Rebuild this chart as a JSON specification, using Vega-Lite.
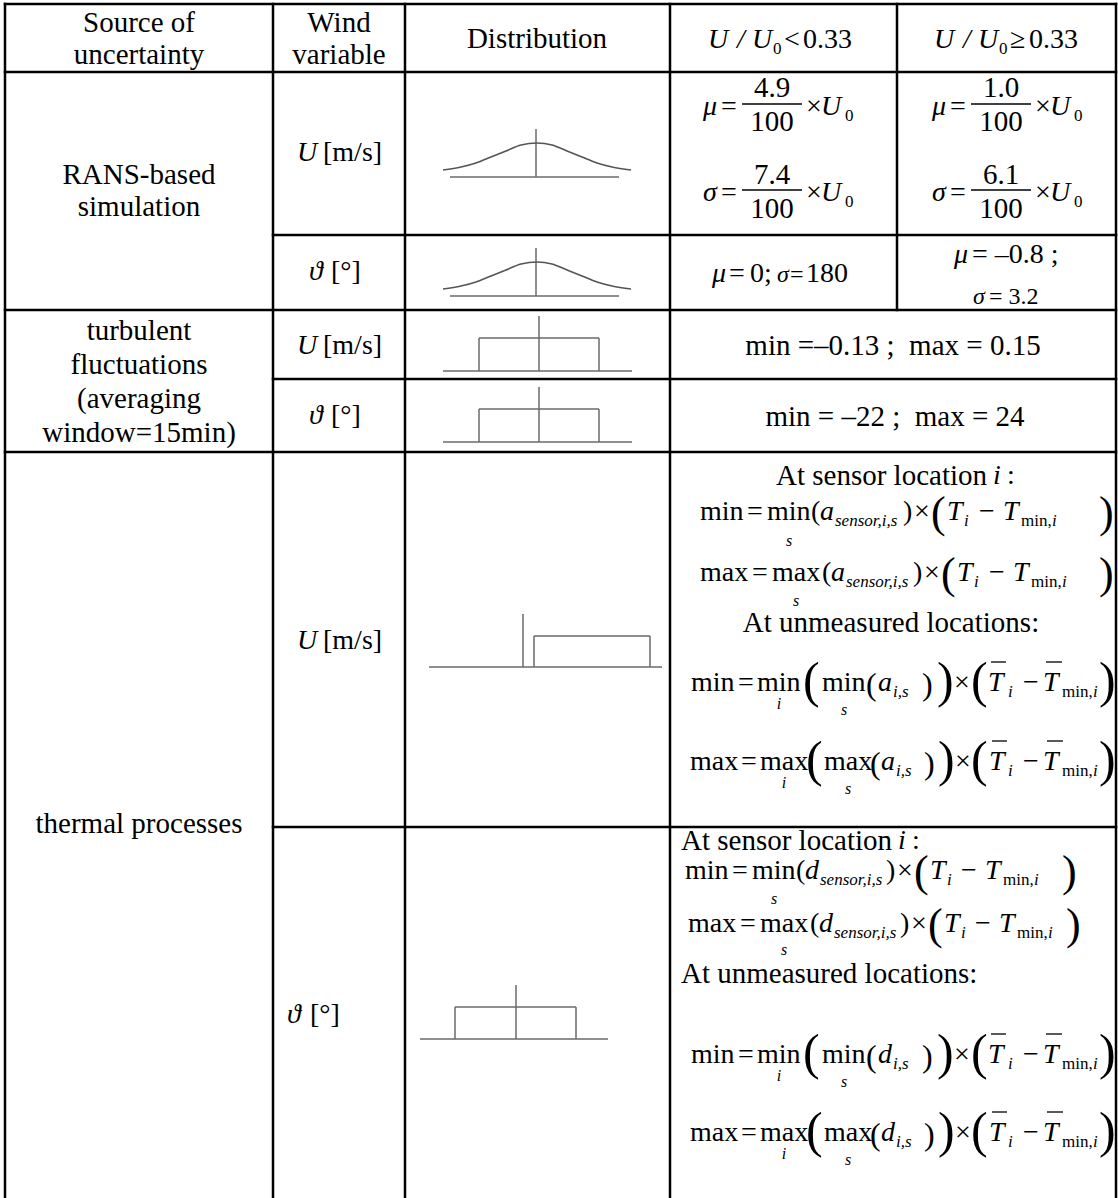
{
"$schema": "https://vega.github.io/schema/vega-lite/v6.json",
"width": 1118, "height": 1198, "autosize": {"type": "none"}, "padding": 0,
"background": "white",
"config": {"view": {"stroke": null}, "text": {"font": "Liberation Serif"}},
"datasets": {
"grid": [
{"x":5,"y":4,"x2":1116,"y2":4},{"x":5,"y":72,"x2":1116,"y2":72},{"x":273,"y":235,"x2":1116,"y2":235},
{"x":5,"y":310,"x2":1116,"y2":310},{"x":273,"y":379,"x2":1116,"y2":379},{"x":5,"y":452,"x2":1116,"y2":452},
{"x":273,"y":827,"x2":1116,"y2":827},
{"x":5,"y":4,"x2":5,"y2":1198},{"x":273,"y":4,"x2":273,"y2":1198},{"x":405,"y":4,"x2":405,"y2":1198},
{"x":670,"y":4,"x2":670,"y2":1198},{"x":897,"y":4,"x2":897,"y2":310},{"x":1116,"y":4,"x2":1116,"y2":1198}
],
"shapes": [
{"x":450,"y":177,"x2":619,"y2":177},{"x":536,"y":129,"x2":536,"y2":177},
{"x":450,"y":296,"x2":619,"y2":296},{"x":536,"y":248,"x2":536,"y2":296},
{"x":443,"y":371,"x2":632,"y2":371},{"x":479,"y":338,"x2":479,"y2":371},{"x":479,"y":338,"x2":599,"y2":338},{"x":599,"y":338,"x2":599,"y2":371},{"x":539,"y":316,"x2":539,"y2":371},
{"x":443,"y":442,"x2":632,"y2":442},{"x":479,"y":409,"x2":479,"y2":442},{"x":479,"y":409,"x2":599,"y2":409},{"x":599,"y":409,"x2":599,"y2":442},{"x":539,"y":387,"x2":539,"y2":442},
{"x":429,"y":667,"x2":662,"y2":667},{"x":523,"y":614,"x2":523,"y2":667},{"x":534,"y":636,"x2":534,"y2":667},{"x":534,"y":636,"x2":650,"y2":636},{"x":650,"y":636,"x2":650,"y2":667},
{"x":420,"y":1039,"x2":608,"y2":1039},{"x":455,"y":1007,"x2":455,"y2":1039},{"x":455,"y":1007,"x2":576,"y2":1007},{"x":576,"y":1007,"x2":576,"y2":1039},{"x":516,"y":985,"x2":516,"y2":1039}
],
"bars": [
{"x":742,"y":104,"x2":802,"y2":104},{"x":742,"y":190,"x2":802,"y2":190},
{"x":971,"y":104,"x2":1031,"y2":104},{"x":971,"y":190,"x2":1031,"y2":190},
{"x":991,"y":662,"x2":1006,"y2":662},{"x":1046,"y":662,"x2":1062,"y2":662},
{"x":992,"y":741,"x2":1007,"y2":741},{"x":1047,"y":741,"x2":1063,"y2":741},
{"x":991,"y":1034,"x2":1006,"y2":1034},{"x":1046,"y":1034,"x2":1062,"y2":1034},
{"x":992,"y":1112,"x2":1007,"y2":1112},{"x":1047,"y":1112,"x2":1063,"y2":1112}
],
"curves": [
{"id":"u","x":443,"y":170},{"id":"u","x":461,"y":167},{"id":"u","x":476,"y":163},{"id":"u","x":491,"y":157},{"id":"u","x":506,"y":151},{"id":"u","x":521,"y":145},{"id":"u","x":537,"y":143},{"id":"u","x":552,"y":145},{"id":"u","x":567,"y":151},{"id":"u","x":582,"y":157},{"id":"u","x":597,"y":163},{"id":"u","x":612,"y":167},{"id":"u","x":631,"y":170},
{"id":"t","x":443,"y":289},{"id":"t","x":461,"y":286},{"id":"t","x":476,"y":282},{"id":"t","x":491,"y":276},{"id":"t","x":506,"y":270},{"id":"t","x":521,"y":264},{"id":"t","x":537,"y":262},{"id":"t","x":552,"y":264},{"id":"t","x":567,"y":270},{"id":"t","x":582,"y":276},{"id":"t","x":597,"y":282},{"id":"t","x":612,"y":286},{"id":"t","x":631,"y":289}
],
"texts": [
{"x":139,"y":23,"t":"Source of","r":"c"},{"x":139,"y":55,"t":"uncertainty","r":"c"},
{"x":339,"y":23,"t":"Wind","r":"c"},{"x":339,"y":55,"t":"variable","r":"c"},
{"x":537,"y":39,"t":"Distribution","r":"c"},
{"x":708,"y":40,"t":"U","r":"v"},{"x":737,"y":40,"t":"/","r":"v"},{"x":752,"y":40,"t":"U","r":"v"},{"x":773,"y":49,"t":"0","r":"sr"},{"x":784,"y":40,"t":"<","r":"r"},{"x":803,"y":40,"t":"0.33","r":"r"},
{"x":934,"y":40,"t":"U","r":"v"},{"x":963,"y":40,"t":"/","r":"v"},{"x":978,"y":40,"t":"U","r":"v"},{"x":999,"y":49,"t":"0","r":"sr"},{"x":1010,"y":40,"t":"≥","r":"r"},{"x":1029,"y":40,"t":"0.33","r":"r"},

{"x":139,"y":175,"t":"RANS-based","r":"c"},{"x":139,"y":207,"t":"simulation","r":"c"},
{"x":297,"y":153,"t":"U","r":"v"},{"x":323,"y":153,"t":"[m/s]","r":"r"},
{"x":703,"y":107,"t":"μ","r":"v"},{"x":721,"y":107,"t":"=","r":"r"},{"x":772,"y":88,"t":"4.9","r":"c"},{"x":772,"y":122,"t":"100","r":"c"},{"x":806,"y":107,"t":"×","r":"r"},{"x":821,"y":107,"t":"U","r":"v"},{"x":845,"y":116,"t":"0","r":"sr"},
{"x":703,"y":193,"t":"σ","r":"v"},{"x":721,"y":193,"t":"=","r":"r"},{"x":772,"y":175,"t":"7.4","r":"c"},{"x":772,"y":209,"t":"100","r":"c"},{"x":806,"y":193,"t":"×","r":"r"},{"x":821,"y":193,"t":"U","r":"v"},{"x":845,"y":202,"t":"0","r":"sr"},
{"x":932,"y":107,"t":"μ","r":"v"},{"x":950,"y":107,"t":"=","r":"r"},{"x":1001,"y":88,"t":"1.0","r":"c"},{"x":1001,"y":122,"t":"100","r":"c"},{"x":1035,"y":107,"t":"×","r":"r"},{"x":1050,"y":107,"t":"U","r":"v"},{"x":1074,"y":116,"t":"0","r":"sr"},
{"x":932,"y":193,"t":"σ","r":"v"},{"x":950,"y":193,"t":"=","r":"r"},{"x":1001,"y":175,"t":"6.1","r":"c"},{"x":1001,"y":209,"t":"100","r":"c"},{"x":1035,"y":193,"t":"×","r":"r"},{"x":1050,"y":193,"t":"U","r":"v"},{"x":1074,"y":202,"t":"0","r":"sr"},

{"x":309,"y":272,"t":"ϑ","r":"v"},{"x":331,"y":272,"t":"[°]","r":"r"},
{"x":712,"y":274,"t":"μ","r":"v"},{"x":729,"y":274,"t":"=","r":"r"},{"x":750,"y":274,"t":"0","r":"r"},{"x":764,"y":274,"t":";","r":"r"},{"x":777,"y":275,"t":"σ","r":"mv"},{"x":790,"y":275,"t":"=","r":"m"},{"x":806,"y":274,"t":"180","r":"r"},
{"x":954,"y":255,"t":"μ","r":"v"},{"x":972,"y":255,"t":"= –0.8 ;","r":"r"},
{"x":973,"y":297,"t":"σ","r":"mv"},{"x":989,"y":297,"t":"= 3.2","r":"m"},

{"x":139,"y":331,"t":"turbulent","r":"c"},{"x":139,"y":365,"t":"fluctuations","r":"c"},{"x":139,"y":399,"t":"(averaging","r":"c"},{"x":139,"y":433,"t":"window=15min)","r":"c"},
{"x":297,"y":346,"t":"U","r":"v"},{"x":323,"y":346,"t":"[m/s]","r":"r"},
{"x":309,"y":416,"t":"ϑ","r":"v"},{"x":331,"y":416,"t":"[°]","r":"r"},
{"x":893,"y":346,"t":"min =–0.13 ;\u00a0 max = 0.15","r":"c"},
{"x":895,"y":417,"t":"min = –22 ;\u00a0 max = 24","r":"c"},

{"x":139,"y":824,"t":"thermal processes","r":"c"},
{"x":297,"y":641,"t":"U","r":"v"},{"x":323,"y":641,"t":"[m/s]","r":"r"},
{"x":287,"y":1015,"t":"ϑ","r":"v"},{"x":310,"y":1015,"t":"[°]","r":"r"},

{"x":776,"y":476,"t":"At sensor location","r":"w"},{"x":993,"y":476,"t":"i","r":"v"},{"x":1007,"y":476,"t":":","r":"r"},
{"x":700,"y":512,"t":"min","r":"r"},{"x":747,"y":512,"t":"=","r":"r"},{"x":767,"y":512,"t":"min","r":"r"},{"x":789,"y":541,"t":"s","r":"lim"},{"x":811,"y":512,"t":"(","r":"r"},{"x":820,"y":512,"t":"a","r":"v"},{"x":835,"y":521,"t":"sensor,i,s","r":"s"},{"x":903,"y":512,"t":")","r":"r"},{"x":914,"y":512,"t":"×","r":"r"},{"x":931,"y":514,"t":"(","r":"p1"},{"x":947,"y":512,"t":"T","r":"v"},{"x":964,"y":521,"t":"i","r":"s"},{"x":979,"y":512,"t":"−","r":"r"},{"x":1003,"y":512,"t":"T","r":"v"},{"x":1021,"y":521,"t":"min,","r":"sr"},{"x":1052,"y":521,"t":"i","r":"s"},{"x":1099,"y":514,"t":")","r":"p1"},
{"x":700,"y":573,"t":"max","r":"r"},{"x":752,"y":573,"t":"=","r":"r"},{"x":772,"y":573,"t":"max","r":"r"},{"x":796,"y":601,"t":"s","r":"lim"},{"x":822,"y":573,"t":"(","r":"r"},{"x":831,"y":573,"t":"a","r":"v"},{"x":846,"y":582,"t":"sensor,i,s","r":"s"},{"x":913,"y":573,"t":")","r":"r"},{"x":924,"y":573,"t":"×","r":"r"},{"x":941,"y":575,"t":"(","r":"p1"},{"x":957,"y":573,"t":"T","r":"v"},{"x":974,"y":582,"t":"i","r":"s"},{"x":989,"y":573,"t":"−","r":"r"},{"x":1013,"y":573,"t":"T","r":"v"},{"x":1031,"y":582,"t":"min,","r":"sr"},{"x":1062,"y":582,"t":"i","r":"s"},{"x":1099,"y":575,"t":")","r":"p1"},
{"x":891,"y":623,"t":"At unmeasured locations:","r":"c"},
{"x":691,"y":683,"t":"min","r":"r"},{"x":738,"y":683,"t":"=","r":"r"},{"x":757,"y":683,"t":"min","r":"r"},{"x":779,"y":704,"t":"i","r":"lim"},{"x":803,"y":682,"t":"(","r":"p2"},{"x":822,"y":683,"t":"min","r":"r"},{"x":844,"y":710,"t":"s","r":"lim"},{"x":866,"y":685,"t":"(","r":"p3"},{"x":878,"y":683,"t":"a","r":"v"},{"x":893,"y":692,"t":"i,s","r":"s"},{"x":922,"y":685,"t":")","r":"p3"},{"x":937,"y":682,"t":")","r":"p2"},{"x":954,"y":683,"t":"×","r":"r"},{"x":971,"y":682,"t":"(","r":"p2"},{"x":988,"y":683,"t":"T","r":"v"},{"x":1008,"y":692,"t":"i","r":"s"},{"x":1023,"y":683,"t":"−","r":"r"},{"x":1043,"y":683,"t":"T","r":"v"},{"x":1062,"y":692,"t":"min,","r":"sr"},{"x":1093,"y":692,"t":"i","r":"s"},{"x":1099,"y":682,"t":")","r":"p2"},
{"x":690,"y":762,"t":"max","r":"r"},{"x":741,"y":762,"t":"=","r":"r"},{"x":760,"y":762,"t":"max","r":"r"},{"x":784,"y":783,"t":"i","r":"lim"},{"x":806,"y":761,"t":"(","r":"p2"},{"x":824,"y":762,"t":"max","r":"r"},{"x":848,"y":789,"t":"s","r":"lim"},{"x":870,"y":764,"t":"(","r":"p3"},{"x":881,"y":762,"t":"a","r":"v"},{"x":896,"y":771,"t":"i,s","r":"s"},{"x":924,"y":764,"t":")","r":"p3"},{"x":938,"y":761,"t":")","r":"p2"},{"x":955,"y":762,"t":"×","r":"r"},{"x":971,"y":761,"t":"(","r":"p2"},{"x":989,"y":762,"t":"T","r":"v"},{"x":1008,"y":771,"t":"i","r":"s"},{"x":1023,"y":762,"t":"−","r":"r"},{"x":1043,"y":762,"t":"T","r":"v"},{"x":1062,"y":771,"t":"min,","r":"sr"},{"x":1093,"y":771,"t":"i","r":"s"},{"x":1099,"y":761,"t":")","r":"p2"},

{"x":681,"y":841,"t":"At sensor location","r":"w"},{"x":898,"y":841,"t":"i","r":"v"},{"x":912,"y":841,"t":":","r":"r"},
{"x":685,"y":871,"t":"min","r":"r"},{"x":732,"y":871,"t":"=","r":"r"},{"x":752,"y":871,"t":"min","r":"r"},{"x":774,"y":899,"t":"s","r":"lim"},{"x":796,"y":871,"t":"(","r":"r"},{"x":805,"y":871,"t":"d","r":"v"},{"x":820,"y":880,"t":"sensor,i,s","r":"s"},{"x":886,"y":871,"t":")","r":"r"},{"x":897,"y":871,"t":"×","r":"r"},{"x":914,"y":873,"t":"(","r":"p1"},{"x":930,"y":871,"t":"T","r":"v"},{"x":947,"y":880,"t":"i","r":"s"},{"x":961,"y":871,"t":"−","r":"r"},{"x":985,"y":871,"t":"T","r":"v"},{"x":1003,"y":880,"t":"min,","r":"sr"},{"x":1034,"y":880,"t":"i","r":"s"},{"x":1062,"y":873,"t":")","r":"p1"},
{"x":688,"y":924,"t":"max","r":"r"},{"x":740,"y":924,"t":"=","r":"r"},{"x":760,"y":924,"t":"max","r":"r"},{"x":784,"y":950,"t":"s","r":"lim"},{"x":810,"y":924,"t":"(","r":"r"},{"x":819,"y":924,"t":"d","r":"v"},{"x":834,"y":933,"t":"sensor,i,s","r":"s"},{"x":900,"y":924,"t":")","r":"r"},{"x":911,"y":924,"t":"×","r":"r"},{"x":928,"y":926,"t":"(","r":"p1"},{"x":944,"y":924,"t":"T","r":"v"},{"x":961,"y":933,"t":"i","r":"s"},{"x":975,"y":924,"t":"−","r":"r"},{"x":999,"y":924,"t":"T","r":"v"},{"x":1017,"y":933,"t":"min,","r":"sr"},{"x":1048,"y":933,"t":"i","r":"s"},{"x":1066,"y":926,"t":")","r":"p1"},
{"x":681,"y":974,"t":"At unmeasured locations:","r":"w"},
{"x":691,"y":1055,"t":"min","r":"r"},{"x":738,"y":1055,"t":"=","r":"r"},{"x":757,"y":1055,"t":"min","r":"r"},{"x":779,"y":1076,"t":"i","r":"lim"},{"x":803,"y":1054,"t":"(","r":"p2"},{"x":822,"y":1055,"t":"min","r":"r"},{"x":844,"y":1082,"t":"s","r":"lim"},{"x":866,"y":1057,"t":"(","r":"p3"},{"x":878,"y":1055,"t":"d","r":"v"},{"x":893,"y":1064,"t":"i,s","r":"s"},{"x":922,"y":1057,"t":")","r":"p3"},{"x":937,"y":1054,"t":")","r":"p2"},{"x":954,"y":1055,"t":"×","r":"r"},{"x":971,"y":1054,"t":"(","r":"p2"},{"x":988,"y":1055,"t":"T","r":"v"},{"x":1008,"y":1064,"t":"i","r":"s"},{"x":1023,"y":1055,"t":"−","r":"r"},{"x":1043,"y":1055,"t":"T","r":"v"},{"x":1062,"y":1064,"t":"min,","r":"sr"},{"x":1093,"y":1064,"t":"i","r":"s"},{"x":1099,"y":1054,"t":")","r":"p2"},
{"x":690,"y":1133,"t":"max","r":"r"},{"x":741,"y":1133,"t":"=","r":"r"},{"x":760,"y":1133,"t":"max","r":"r"},{"x":784,"y":1154,"t":"i","r":"lim"},{"x":806,"y":1132,"t":"(","r":"p2"},{"x":824,"y":1133,"t":"max","r":"r"},{"x":848,"y":1160,"t":"s","r":"lim"},{"x":870,"y":1135,"t":"(","r":"p3"},{"x":881,"y":1133,"t":"d","r":"v"},{"x":896,"y":1142,"t":"i,s","r":"s"},{"x":924,"y":1135,"t":")","r":"p3"},{"x":938,"y":1132,"t":")","r":"p2"},{"x":955,"y":1133,"t":"×","r":"r"},{"x":971,"y":1132,"t":"(","r":"p2"},{"x":989,"y":1133,"t":"T","r":"v"},{"x":1008,"y":1142,"t":"i","r":"s"},{"x":1023,"y":1133,"t":"−","r":"r"},{"x":1043,"y":1133,"t":"T","r":"v"},{"x":1062,"y":1142,"t":"min,","r":"sr"},{"x":1093,"y":1142,"t":"i","r":"s"},{"x":1099,"y":1132,"t":")","r":"p2"}
]
},
"encoding": {
"x": {"field": "x", "type": "quantitative", "scale": {"domain": [0, 1118], "nice": false, "zero": false}, "axis": null},
"y": {"field": "y", "type": "quantitative", "scale": {"domain": [0, 1198], "nice": false, "zero": false, "reverse": true}, "axis": null}
},
"layer": [
{"data": {"name": "grid"}, "mark": {"type": "rule", "color": "black", "strokeWidth": 2.5, "strokeCap": "square"},
 "encoding": {"x2": {"field": "x2"}, "y2": {"field": "y2"}}},
{"data": {"name": "shapes"}, "mark": {"type": "rule", "color": "#6a6a6a", "strokeWidth": 1.5},
 "encoding": {"x2": {"field": "x2"}, "y2": {"field": "y2"}}},
{"data": {"name": "bars"}, "mark": {"type": "rule", "color": "black", "strokeWidth": 1.3},
 "encoding": {"x2": {"field": "x2"}, "y2": {"field": "y2"}}},
{"data": {"name": "curves"}, "mark": {"type": "line", "color": "#555555", "strokeWidth": 1.6, "interpolate": "monotone"},
 "encoding": {"detail": {"field": "id"}, "order": {"field": "x", "type": "quantitative"}}},
{"data": {"name": "texts"}, "transform": [{"filter": "datum.r == 'c'"}],
 "mark": {"type": "text", "font": "Liberation Serif", "fontSize": 29, "align": "center", "baseline": "middle", "color": "black"},
 "encoding": {"text": {"field": "t"}}},
{"data": {"name": "texts"}, "transform": [{"filter": "datum.r == 'w'"}],
 "mark": {"type": "text", "font": "Liberation Serif", "fontSize": 29, "align": "left", "baseline": "middle", "color": "black"},
 "encoding": {"text": {"field": "t"}}},
{"data": {"name": "texts"}, "transform": [{"filter": "datum.r == 'r'"}],
 "mark": {"type": "text", "font": "Liberation Serif", "fontSize": 28, "align": "left", "baseline": "middle", "color": "black"},
 "encoding": {"text": {"field": "t"}}},
{"data": {"name": "texts"}, "transform": [{"filter": "datum.r == 'v'"}],
 "mark": {"type": "text", "font": "Liberation Serif", "fontSize": 28, "fontStyle": "italic", "align": "left", "baseline": "middle", "color": "black"},
 "encoding": {"text": {"field": "t"}}},
{"data": {"name": "texts"}, "transform": [{"filter": "datum.r == 'm'"}],
 "mark": {"type": "text", "font": "Liberation Serif", "fontSize": 24, "align": "left", "baseline": "middle", "color": "black"},
 "encoding": {"text": {"field": "t"}}},
{"data": {"name": "texts"}, "transform": [{"filter": "datum.r == 'mv'"}],
 "mark": {"type": "text", "font": "Liberation Serif", "fontSize": 24, "fontStyle": "italic", "align": "left", "baseline": "middle", "color": "black"},
 "encoding": {"text": {"field": "t"}}},
{"data": {"name": "texts"}, "transform": [{"filter": "datum.r == 'sr'"}],
 "mark": {"type": "text", "font": "Liberation Serif", "fontSize": 17, "align": "left", "baseline": "middle", "color": "black"},
 "encoding": {"text": {"field": "t"}}},
{"data": {"name": "texts"}, "transform": [{"filter": "datum.r == 's'"}],
 "mark": {"type": "text", "font": "Liberation Serif", "fontSize": 17, "fontStyle": "italic", "align": "left", "baseline": "middle", "color": "black"},
 "encoding": {"text": {"field": "t"}}},
{"data": {"name": "texts"}, "transform": [{"filter": "datum.r == 'lim'"}],
 "mark": {"type": "text", "font": "Liberation Serif", "fontSize": 16, "fontStyle": "italic", "align": "center", "baseline": "middle", "color": "black"},
 "encoding": {"text": {"field": "t"}}},
{"data": {"name": "texts"}, "transform": [{"filter": "datum.r == 'p1'"}],
 "mark": {"type": "text", "font": "Liberation Serif", "fontSize": 44, "align": "left", "baseline": "middle", "color": "black"},
 "encoding": {"text": {"field": "t"}}},
{"data": {"name": "texts"}, "transform": [{"filter": "datum.r == 'p2'"}],
 "mark": {"type": "text", "font": "Liberation Serif", "fontSize": 50, "align": "left", "baseline": "middle", "color": "black"},
 "encoding": {"text": {"field": "t"}}},
{"data": {"name": "texts"}, "transform": [{"filter": "datum.r == 'p3'"}],
 "mark": {"type": "text", "font": "Liberation Serif", "fontSize": 32, "align": "left", "baseline": "middle", "color": "black"},
 "encoding": {"text": {"field": "t"}}}
]
}
